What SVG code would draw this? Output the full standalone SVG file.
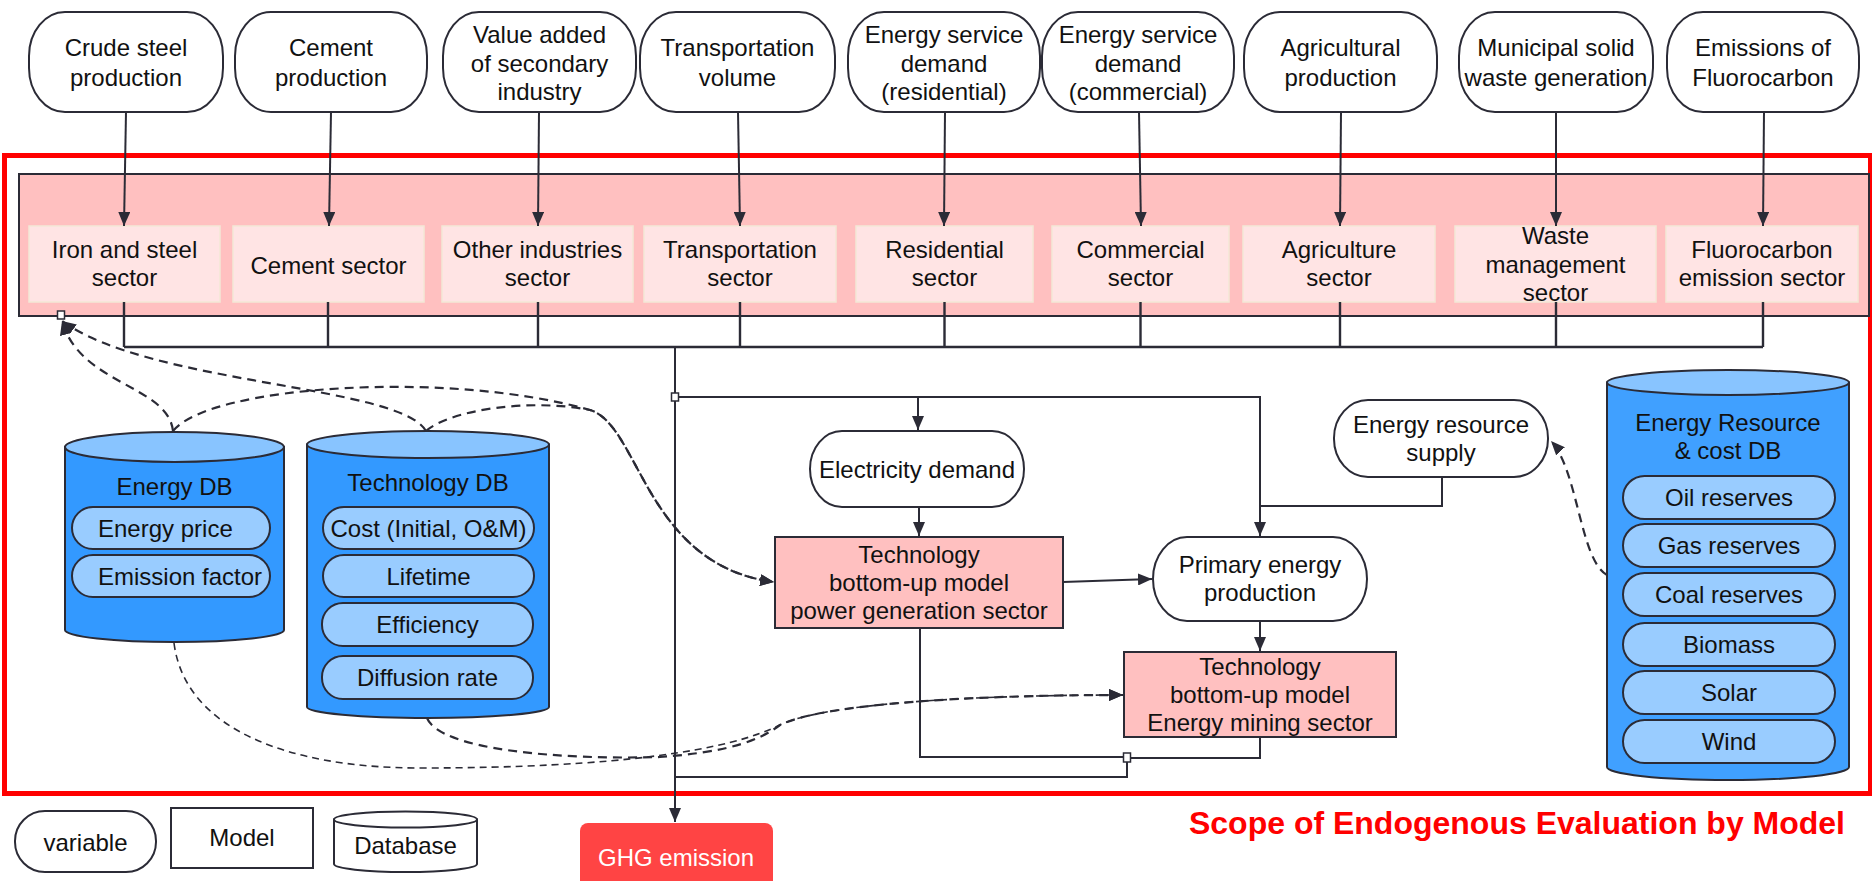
<svg xmlns="http://www.w3.org/2000/svg" width="1872" height="881" viewBox="0 0 1872 881">
<style>
.n{fill:#fff;stroke:#2b2b36;stroke-width:2}
.t{font-family:"Liberation Sans",Arial,sans-serif;font-size:24px;fill:#111;text-anchor:middle}
.sec{fill:#FFE4E4;stroke:#F3E8D6;stroke-width:1.5}
.mdl{fill:#FFC0C0;stroke:#2b2b36;stroke-width:2}
.db{fill:#3399FF;stroke:#2b2b36;stroke-width:2}
.dbtop{fill:#88C4FF;stroke:#2b2b36;stroke-width:2}
.pill{fill:#99CCFF;stroke:#2b2b36;stroke-width:2}
.c{fill:none;stroke:#2b2b36;stroke-width:2}
.d{fill:none;stroke:#2b2b36;stroke-width:2.2;stroke-dasharray:9 6}
.d2{fill:none;stroke:#2b2b36;stroke-width:1.6;stroke-dasharray:7 5}
.sq{fill:#fff;stroke:#2b2b36;stroke-width:1.5}
</style>
<defs>
<marker id="ah" viewBox="0 0 14 12" refX="14" refY="6" markerWidth="14" markerHeight="12" markerUnits="userSpaceOnUse" orient="auto"><path d="M0,0 L14,6 L0,12 z" fill="#2b2b36"/></marker>
</defs>
<rect width="1872" height="881" fill="#fff"/>

<!-- scope frame -->
<g id="scope">
<rect x="4.5" y="155.5" width="1866" height="638" fill="none" stroke="#FF0000" stroke-width="5"/>
<text x="1845" y="834" font-family="Liberation Sans,Arial,sans-serif" font-size="32" font-weight="bold" fill="#FF0000" text-anchor="end">Scope of Endogenous Evaluation by Model</text>
</g>

<!-- sector band -->
<g id="sector-band"><rect x="19" y="174" width="1850" height="142" fill="#FFC0C0" stroke="#2b2b36" stroke-width="2"/></g>

<!-- top variables -->
<g id="v-crude"><rect class="n" x="29" y="12" width="194" height="100" rx="36" ry="44"/><text class="t" x="126"><tspan x="126" y="56">Crude steel</tspan><tspan x="126" y="86">production</tspan></text></g>
<g id="v-cement"><rect class="n" x="235" y="12" width="192" height="100" rx="36" ry="44"/><text class="t"><tspan x="331" y="56">Cement</tspan><tspan x="331" y="86">production</tspan></text></g>
<g id="v-value"><rect class="n" x="443" y="12" width="193" height="100" rx="36" ry="44"/><text class="t"><tspan x="539.5" y="43">Value added</tspan><tspan x="539.5" y="72">of secondary</tspan><tspan x="539.5" y="100">industry</tspan></text></g>
<g id="v-transport"><rect class="n" x="640" y="12" width="195" height="100" rx="36" ry="44"/><text class="t"><tspan x="737.5" y="56">Transportation</tspan><tspan x="737.5" y="86">volume</tspan></text></g>
<g id="v-res"><rect class="n" x="848" y="12" width="192" height="100" rx="36" ry="44"/><text class="t"><tspan x="944" y="43">Energy service</tspan><tspan x="944" y="72">demand</tspan><tspan x="944" y="100">(residential)</tspan></text></g>
<g id="v-com"><rect class="n" x="1042" y="12" width="192" height="100" rx="36" ry="44"/><text class="t"><tspan x="1138" y="43">Energy service</tspan><tspan x="1138" y="72">demand</tspan><tspan x="1138" y="100">(commercial)</tspan></text></g>
<g id="v-agri"><rect class="n" x="1244" y="12" width="193" height="100" rx="36" ry="44"/><text class="t"><tspan x="1340.5" y="56">Agricultural</tspan><tspan x="1340.5" y="86">production</tspan></text></g>
<g id="v-waste"><rect class="n" x="1459" y="12" width="194" height="100" rx="36" ry="44"/><text class="t"><tspan x="1556" y="56">Municipal solid</tspan><tspan x="1556" y="86">waste generation</tspan></text></g>
<g id="v-fluoro"><rect class="n" x="1667" y="12" width="192" height="100" rx="36" ry="44"/><text class="t"><tspan x="1763" y="56">Emissions of</tspan><tspan x="1763" y="86">Fluorocarbon</tspan></text></g>

<!-- sectors -->
<g id="s-iron"><rect class="sec" x="29" y="226" width="191" height="76"/><text class="t"><tspan x="124.5" y="258">Iron and steel</tspan><tspan x="124.5" y="286">sector</tspan></text></g>
<g id="s-cement"><rect class="sec" x="233" y="226" width="191" height="76"/><text class="t" x="328.5" y="274">Cement sector</text></g>
<g id="s-other"><rect class="sec" x="442" y="226" width="191" height="76"/><text class="t"><tspan x="537.5" y="258">Other industries</tspan><tspan x="537.5" y="286">sector</tspan></text></g>
<g id="s-transport"><rect class="sec" x="644" y="226" width="192" height="76"/><text class="t"><tspan x="740" y="258">Transportation</tspan><tspan x="740" y="286">sector</tspan></text></g>
<g id="s-res"><rect class="sec" x="856" y="226" width="177" height="76"/><text class="t"><tspan x="944.5" y="258">Residential</tspan><tspan x="944.5" y="286">sector</tspan></text></g>
<g id="s-com"><rect class="sec" x="1052" y="226" width="177" height="76"/><text class="t"><tspan x="1140.5" y="258">Commercial</tspan><tspan x="1140.5" y="286">sector</tspan></text></g>
<g id="s-agri"><rect class="sec" x="1243" y="226" width="192" height="76"/><text class="t"><tspan x="1339" y="258">Agriculture</tspan><tspan x="1339" y="286">sector</tspan></text></g>
<g id="s-waste"><rect class="sec" x="1455" y="226" width="201" height="76"/><text class="t"><tspan x="1555.5" y="244">Waste</tspan><tspan x="1555.5" y="273">management</tspan><tspan x="1555.5" y="301">sector</tspan></text></g>
<g id="s-fluoro"><rect class="sec" x="1666" y="226" width="192" height="76"/><text class="t"><tspan x="1762" y="258">Fluorocarbon</tspan><tspan x="1762" y="286">emission sector</tspan></text></g>

<!-- middle nodes -->
<g id="elec"><rect class="n" x="810" y="431" width="214" height="76" rx="32" ry="38"/><text class="t" x="917" y="478">Electricity demand</text></g>
<g id="power"><rect class="mdl" x="775" y="537" width="288" height="91"/><text class="t"><tspan x="919" y="563">Technology</tspan><tspan x="919" y="591">bottom-up model</tspan><tspan x="919" y="619">power generation sector</tspan></text></g>
<g id="primary"><rect class="n" x="1153" y="537" width="214" height="84" rx="34" ry="42"/><text class="t"><tspan x="1260" y="573">Primary energy</tspan><tspan x="1260" y="601">production</tspan></text></g>
<g id="ers"><rect class="n" x="1334" y="400" width="214" height="77" rx="34" ry="38"/><text class="t"><tspan x="1441" y="433">Energy resource</tspan><tspan x="1441" y="461">supply</tspan></text></g>
<g id="mining"><rect class="mdl" x="1124" y="652" width="272" height="85"/><text class="t"><tspan x="1260" y="675">Technology</tspan><tspan x="1260" y="703">bottom-up model</tspan><tspan x="1260" y="731">Energy mining sector</tspan></text></g>
<g id="ghg"><rect x="580" y="823" width="193" height="70" rx="8" fill="#FF4444"/><text class="t" x="676" y="866" fill="#fff" style="fill:#fff">GHG emission</text></g>

<!-- databases -->
<g id="energy-db">
<path class="db" d="M65,447 L65,630 A109.5,12 0 0 0 284,630 L284,447 Z"/>
<ellipse class="dbtop" cx="174.5" cy="447" rx="109.5" ry="15"/>
<text class="t" x="174.5" y="495">Energy DB</text>
<rect class="pill" x="72" y="507" width="198" height="42" rx="21"/>
<text class="t" x="98" y="536.5" style="text-anchor:start">Energy price</text>
<rect class="pill" x="72" y="555" width="198" height="42" rx="21"/>
<text class="t" x="98" y="584.5" style="text-anchor:start">Emission factor</text>
</g>
<g id="tech-db">
<path class="db" d="M307,444.5 L307,707 A121,11 0 0 0 549,707 L549,444.5 Z"/>
<ellipse class="dbtop" cx="428" cy="444.5" rx="121" ry="13.5"/>
<text class="t" x="428" y="491">Technology DB</text>
<rect class="pill" x="323" y="507" width="211" height="42" rx="21"/>
<text class="t" x="428.5" y="536.5">Cost (Initial, O&amp;M)</text>
<rect class="pill" x="323" y="555" width="211" height="42" rx="21"/>
<text class="t" x="428.5" y="584.5">Lifetime</text>
<rect class="pill" x="322" y="603" width="211" height="43" rx="21"/>
<text class="t" x="427.5" y="633">Efficiency</text>
<rect class="pill" x="322" y="656" width="211" height="43" rx="21"/>
<text class="t" x="427.5" y="686">Diffusion rate</text>
</g>
<g id="resource-db">
<path class="db" d="M1607,382.5 L1607,767 A121,13 0 0 0 1849,767 L1849,382.5 Z" style="fill:#40A0FF"/>
<ellipse class="dbtop" cx="1728" cy="382.5" rx="121" ry="12.5"/>
<text class="t"><tspan x="1728" y="431">Energy Resource</tspan><tspan x="1728" y="459">&amp; cost DB</tspan></text>
<rect class="pill" x="1623" y="476" width="212" height="43" rx="21.5"/><text class="t" x="1729" y="506">Oil reserves</text>
<rect class="pill" x="1623" y="524" width="212" height="43" rx="21.5"/><text class="t" x="1729" y="554">Gas reserves</text>
<rect class="pill" x="1623" y="573" width="212" height="43" rx="21.5"/><text class="t" x="1729" y="603">Coal reserves</text>
<rect class="pill" x="1623" y="623" width="212" height="43" rx="21.5"/><text class="t" x="1729" y="653">Biomass</text>
<rect class="pill" x="1623" y="671" width="212" height="43" rx="21.5"/><text class="t" x="1729" y="701">Solar</text>
<rect class="pill" x="1623" y="720" width="212" height="43" rx="21.5"/><text class="t" x="1729" y="750">Wind</text>
</g>

<!-- legend -->
<g id="legend-variable"><rect class="n" x="15" y="811" width="141" height="61" rx="30" ry="30"/><text class="t" x="85.5" y="851">variable</text></g>
<g id="legend-model"><rect class="n" x="171" y="808" width="142" height="60"/><text class="t" x="242" y="846">Model</text></g>
<g id="legend-db"><path class="n" d="M334,819.5 L334,864 A71.5,8 0 0 0 477,864 L477,819.5 Z"/><ellipse class="n" cx="405.5" cy="819.5" rx="71.5" ry="8"/><text class="t" x="405.5" y="854">Database</text></g>

<!-- connectors -->
<g id="connectors">
<path class="c" d="M126,112 L124,226" marker-end="url(#ah)"/>
<path class="c" d="M331,112 L329,226" marker-end="url(#ah)"/>
<path class="c" d="M539,112 L538,226" marker-end="url(#ah)"/>
<path class="c" d="M738,112 L740,226" marker-end="url(#ah)"/>
<path class="c" d="M945,112 L944,226" marker-end="url(#ah)"/>
<path class="c" d="M1139,112 L1141,226" marker-end="url(#ah)"/>
<path class="c" d="M1341,112 L1340,226" marker-end="url(#ah)"/>
<path class="c" d="M1556,112 L1556,226" marker-end="url(#ah)"/>
<path class="c" d="M1764,112 L1763,226" marker-end="url(#ah)"/>
<path class="c" d="M124,302 V347 M328,302 V347 M538,302 V347 M740,302 V347 M944.5,302 V347 M1140.5,302 V347 M1340,302 V347 M1556,302 V347 M1763,302 V347 M124,347 H1763" style="stroke-width:2.4"/>
<path class="c" d="M675,347 V822" marker-end="url(#ah)"/>
<path class="c" d="M675,397 H1260 V536" marker-end="url(#ah)"/>
<path class="c" d="M918,397 V430" marker-end="url(#ah)"/>
<path class="c" d="M919,507 V536" marker-end="url(#ah)"/>
<path class="c" d="M1063,582 L1152,579" marker-end="url(#ah)"/>
<path class="c" d="M1442,477 V506 H1260"/>
<path class="c" d="M1260,621 V651" marker-end="url(#ah)"/>
<path class="c" d="M920,628 V757 H1123"/>
<path class="c" d="M1260,737 V758 H1131"/>
<path class="c" d="M1127,762 V777 H675"/>
<path class="d" d="M173,431 C168,385 80,385 62,321" marker-end="url(#ah)"/>
<path class="d" d="M426,431 C400,385 150,385 62,321" marker-end="url(#ah)"/>
<path class="d" d="M173,431 C210,385 450,370 590,410 C640,425 645,565 774,582" marker-end="url(#ah)"/>
<path class="d" d="M426,431 C450,410 530,398 590,410 C640,425 645,565 774,582" marker-end="url(#ah)"/>
<path class="d2" d="M174,643 C185,730 290,768 420,768 C620,768 730,750 780,725 C820,705 960,695 1123,695" marker-end="url(#ah)"/>
<path class="d" d="M427,718 C440,750 560,760 660,757 C730,752 760,740 780,725 C820,705 960,695 1123,695" marker-end="url(#ah)"/>
<path class="d" d="M1607,575 C1580,560 1578,470 1551,441" marker-end="url(#ah)"/>
<rect class="sq" x="57.5" y="311" width="7" height="8"/>
<rect class="sq" x="671.5" y="393" width="7" height="8"/>
<rect class="sq" x="1123.5" y="753" width="7" height="9"/>
</g>
</svg>
